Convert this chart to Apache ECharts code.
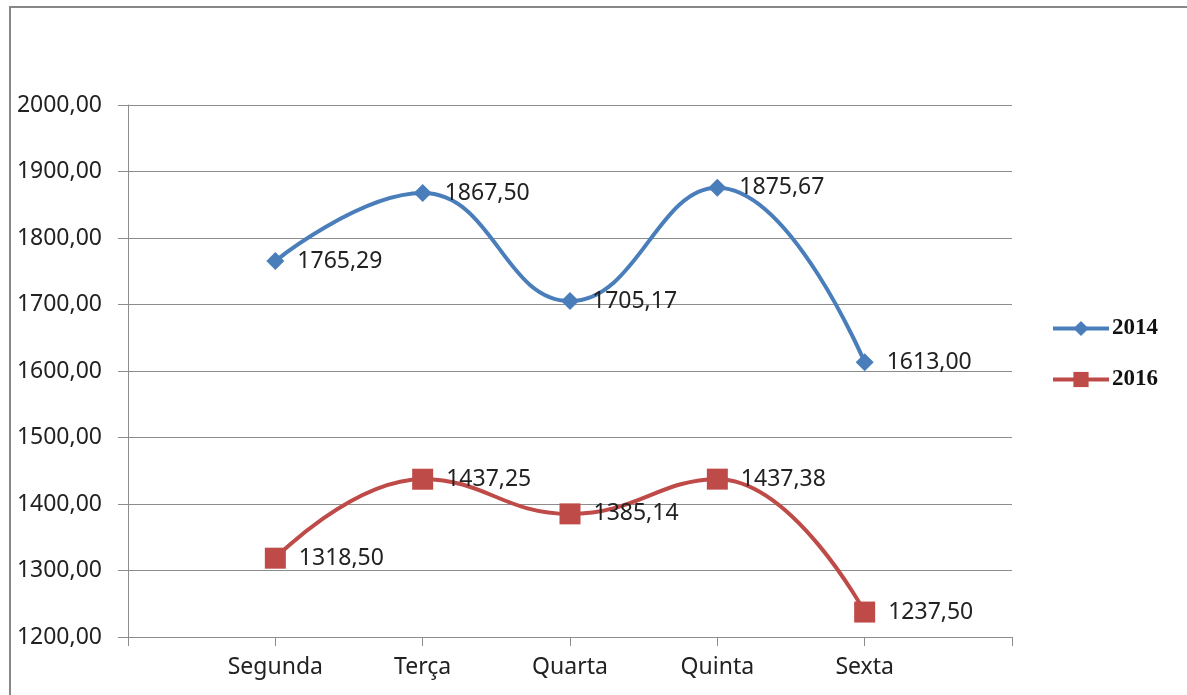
<!DOCTYPE html>
<html>
<head>
<meta charset="utf-8">
<script src="https://cdn.jsdelivr.net/npm/echarts@6/dist/echarts.min.js"></script>
<style>
  html, body { margin: 0; padding: 0; background: #fff; }
  #chart { width: 1187px; height: 695px; }
</style>
</head>
<body>
<div id="chart"></div>
<script>
// dias da semana
const categories = ['Segunda', 'Terça', 'Quarta', 'Quinta', 'Sexta']
const values2014 = [1765.29, 1867.50, 1705.17, 1875.67, 1613.00]
const values2016 = [1318.50, 1437.25, 1385.14, 1437.38, 1237.50]
const yTicks = [1200, 2000, 100]

// uma posição vazia em cada ponta do eixo, como no Excel
const pad = arr => [null].concat(arr, [null])
const fmt = v => v.toFixed(2).replace('.', ',')

const sans = '"Noto Sans", sans-serif'
const gray = '#8c8c8c'
const blue = '#4a7ebb'
const red = '#be4b48'

const chart = echarts.init(document.getElementById('chart'))
chart.setOption({
  animation: false,
  graphic: [{
    type: 'rect',
    shape: { x: 10, y: 7, width: 1300, height: 800 },
    style: { fill: 'none', stroke: '#888', lineWidth: 2 }
  }],
  grid: { left: 128, right: 175, top: 105, bottom: 58 },
  legend: {
    orient: 'vertical',
    left: 1046,
    top: 312,
    itemWidth: 56,
    itemHeight: 19,
    itemGap: 28,
    textStyle: { fontFamily: '"Liberation Serif", serif', fontWeight: 'bold', fontSize: 23, color: '#111', padding: [0, 0, 0, -2] },
    data: [
      { name: '2014', lineStyle: { width: 4, color: blue } },
      { name: '2016', lineStyle: { width: 4, color: red } }
    ]
  },
  xAxis: {
    type: 'category',
    boundaryGap: false,
    data: pad(categories).map(c => c === null ? '' : c),
    axisLine: { lineStyle: { color: gray, width: 1 } },
    axisTick: { show: true, length: 9, lineStyle: { color: gray } },
    axisLabel: { margin: 19, color: '#222', fontFamily: sans, fontSize: 23, interval: 0 },
    splitLine: { show: false }
  },
  yAxis: {
    type: 'value',
    min: yTicks[0],
    max: yTicks[1],
    interval: yTicks[2],
    axisLine: { show: true, lineStyle: { color: gray, width: 1 } },
    axisTick: { show: true, length: 10, lineStyle: { color: gray } },
    axisLabel: { margin: 26, color: '#222', fontFamily: sans, fontSize: 23, formatter: v => fmt(v) },
    splitLine: { lineStyle: { color: gray, width: 1 } }
  },
  series: [
    {
      name: '2014',
      type: 'line',
      smooth: 0.45,
      data: pad(values2014),
      symbol: 'diamond',
      symbolSize: 18,
      lineStyle: { color: blue, width: 4 },
      itemStyle: { color: blue },
      label: {
        show: true, position: 'right', distance: 13,
        fontFamily: sans, fontSize: 23, color: '#222',
        formatter: p => fmt(p.value)
      }
    },
    {
      name: '2016',
      type: 'line',
      smooth: 0.45,
      data: pad(values2016),
      symbol: 'rect',
      symbolSize: 21,
      lineStyle: { color: red, width: 4 },
      itemStyle: { color: red },
      label: {
        show: true, position: 'right', distance: 13,
        fontFamily: sans, fontSize: 23, color: '#222',
        formatter: p => fmt(p.value)
      }
    }
  ]
})
</script>
</body>
</html>
